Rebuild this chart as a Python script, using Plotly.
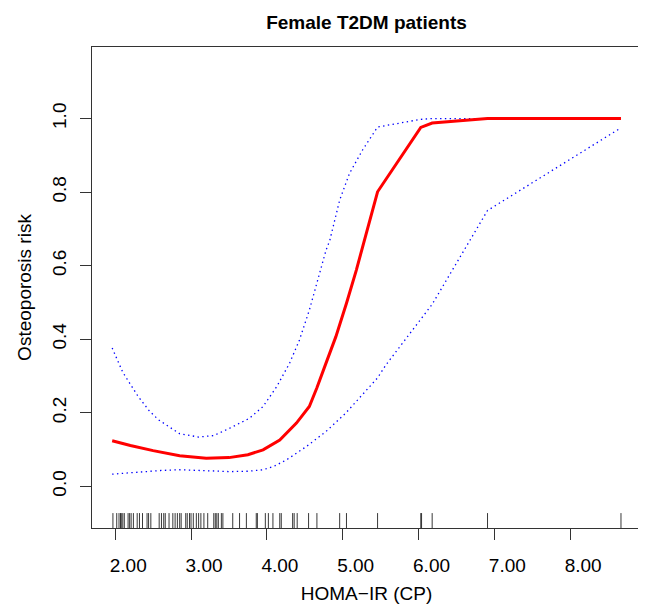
import plotly.graph_objects as go

# ---- data ----
fit_x = [1.96, 2.2, 2.5, 2.85, 3.2, 3.5, 3.75, 3.95, 4.17, 4.39, 4.56, 4.66, 4.78, 4.91, 5.05, 5.18, 5.46, 6.03, 6.18, 6.91, 8.67]
fit_y = [0.124, 0.111, 0.097, 0.083, 0.076, 0.078, 0.086, 0.099, 0.126, 0.172, 0.217, 0.268, 0.335, 0.407, 0.498, 0.588, 0.801, 0.976, 0.988, 1.0, 1.0]

upper_x = [1.96, 2.1, 2.3, 2.45, 2.57, 2.85, 3.1, 3.3, 3.51, 3.77, 3.95, 4.13, 4.3, 4.43, 4.56, 4.67, 4.78, 4.83, 4.96, 5.09, 5.26, 5.46, 6.03, 6.18, 6.91, 8.67]
upper_y = [0.376, 0.31, 0.245, 0.205, 0.181, 0.143, 0.134, 0.138, 0.158, 0.185, 0.217, 0.271, 0.335, 0.398, 0.479, 0.561, 0.642, 0.669, 0.778, 0.851, 0.914, 0.977, 0.998, 1.0, 1.0, 1.0]

lower_x = [1.96, 2.3, 2.6, 2.85, 3.2, 3.51, 3.75, 3.95, 4.1, 4.26, 4.52, 4.78, 5.04, 5.31, 5.46, 5.57, 5.85, 6.03, 6.18, 6.91, 8.67]
lower_y = [0.033, 0.039, 0.043, 0.045, 0.042, 0.040, 0.041, 0.045, 0.055, 0.072, 0.108, 0.149, 0.199, 0.262, 0.295, 0.330, 0.407, 0.455, 0.495, 0.750, 0.975]

rug_x = [1.97, 2.02, 2.05, 2.07, 2.08, 2.10, 2.12, 2.17, 2.19, 2.21, 2.24, 2.29, 2.32, 2.36,
         2.42, 2.44, 2.47, 2.58, 2.61, 2.64, 2.66, 2.71, 2.76, 2.79, 2.82, 2.85, 2.87, 2.93,
         2.95, 2.98, 3.00, 3.03, 3.07, 3.10, 3.13, 3.17, 3.22, 3.30, 3.32, 3.34, 3.36, 3.40,
         3.42, 3.55, 3.64, 3.73, 3.86, 3.875, 3.98, 4.02, 4.08, 4.17, 4.19, 4.34, 4.36, 4.40,
         4.55, 4.66, 4.96, 5.05, 5.46, 6.03, 6.04, 6.18, 6.91, 8.67]

x_ticks = [2, 3, 4, 5, 6, 7, 8]
y_ticks = [0.0, 0.2, 0.4, 0.6, 0.8, 1.0]

FONT = "Liberation Sans, Arial, sans-serif"
W, H = 638, 598  # page body has an 8px margin

fig = go.Figure()
fig.add_trace(go.Scatter(x=upper_x, y=upper_y, mode="lines",
                         line=dict(color="#0000ff", width=1.3, dash="1.4px,3.4px"),
                         showlegend=False, hoverinfo="skip"))
fig.add_trace(go.Scatter(x=lower_x, y=lower_y, mode="lines",
                         line=dict(color="#0000ff", width=1.3, dash="1.4px,3.4px"),
                         showlegend=False, hoverinfo="skip"))
fig.add_trace(go.Scatter(x=fit_x, y=fit_y, mode="lines",
                         line=dict(color="#ff0000", width=3),
                         showlegend=False, hoverinfo="skip"))

for v in rug_x:
    fig.add_shape(type="line", xref="x", yref="paper", x0=v, x1=v, y0=0, y1=0.031,
                  line=dict(color="#222222", width=0.9))

fig.update_layout(
    width=W, height=H,
    margin=dict(l=84, r=3.3, t=39, b=78.3, pad=0),
    paper_bgcolor="white", plot_bgcolor="white",
    font=dict(family=FONT, size=19, color="black"),
    title=dict(text="<b>Female T2DM patients</b>", x=0.5, xanchor="center",
               xref="paper", y=1 - 14 / H, yanchor="middle",
               font=dict(family=FONT, size=19, color="black")),
)
fig.update_xaxes(
    range=[1.694, 8.934], tickvals=x_ticks, tickformat=".2f",
    ticks="outside", ticklen=11, tickwidth=1.3, tickcolor="#333333",
    showline=True, linecolor="#333333", linewidth=1.3, mirror=True,
    showgrid=False, zeroline=False, ticklabelshift=13, ticklabelstandoff=9,
    title=dict(text="HOMA\u2212IR (CP)", standoff=11, font=dict(size=19)),
)
fig.update_yaxes(
    range=[-0.1134, 1.1947], tickvals=y_ticks, tickformat=".1f", tickangle=-90,
    ticks="outside", ticklen=11, tickwidth=1.3, tickcolor="#333333",
    showline=True, linecolor="#333333", linewidth=1.3, mirror=True,
    showgrid=False, zeroline=False, ticklabelstandoff=6,
    title=dict(text="Osteoporosis risk", standoff=12, font=dict(size=19)),
)

fig.write_html("out.html")
